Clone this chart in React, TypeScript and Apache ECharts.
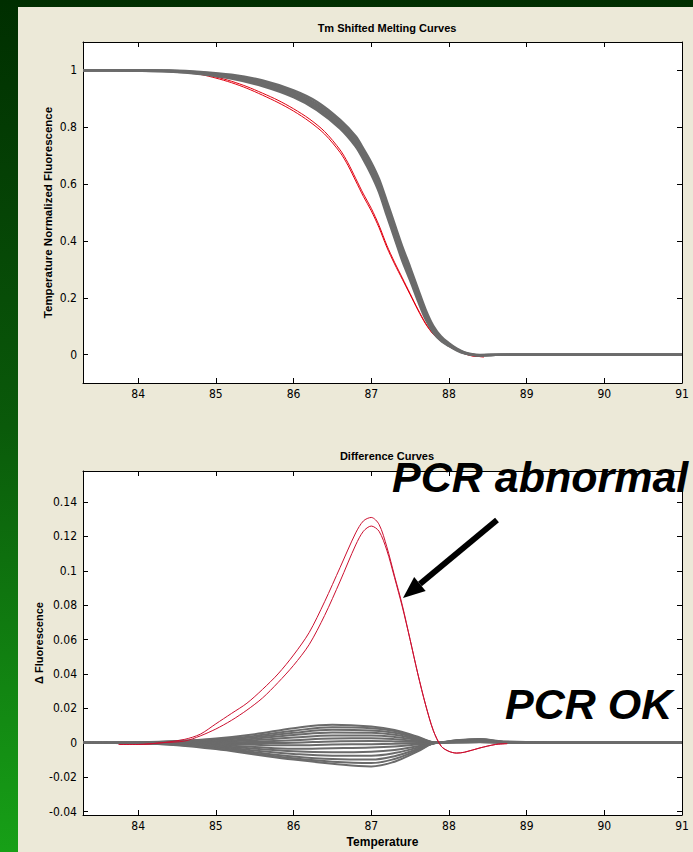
import React, { useEffect, useRef } from "react";
import * as echarts from "echarts";

// ---------- axis settings ----------
const xMin = 83.29;
const xMax = 91;
const xStep = 1;
const topYMin = -0.1;
const topYMax = 1.1;
const topYStep = 0.2;
const botYMin = -0.042;
const botYMax = 0.158;
const botYStep = 0.02;

// ---------- Tm shifted melting curves (top) ----------
const meltTemps = [83.29, 83.6, 84.0, 84.4, 84.8, 85.2, 85.6, 86.0, 86.3, 86.6, 86.8, 86.9, 87.0, 87.1, 87.2, 87.3, 87.4, 87.5, 87.6, 87.7, 87.8, 87.9, 88.0, 88.1, 88.2, 88.3, 88.4, 88.6, 88.8, 89.5, 90.2, 91.0];
const meltGrayUpper = [1.0, 1.0, 1.001, 1.0, 0.995, 0.985, 0.965, 0.93, 0.89, 0.826, 0.768, 0.724, 0.676, 0.618, 0.54, 0.46, 0.38, 0.308, 0.232, 0.158, 0.1, 0.063, 0.04, 0.021, 0.008, 0.001, -0.001, 0.0, 0.0, 0.0, 0.0, 0.0];
const meltGrayUpperMid = [1.0, 1.0, 1.0, 0.999, 0.993, 0.981, 0.96, 0.924, 0.882, 0.818, 0.759, 0.714, 0.665, 0.606, 0.527, 0.447, 0.367, 0.296, 0.221, 0.149, 0.094, 0.059, 0.037, 0.019, 0.007, 0.0, -0.002, -0.001, 0.0, 0.0, 0.0, 0.0];
const meltGrayMid = [1.0, 1.0, 1.0, 0.998, 0.991, 0.978, 0.955, 0.918, 0.875, 0.81, 0.75, 0.705, 0.655, 0.595, 0.515, 0.435, 0.355, 0.285, 0.21, 0.14, 0.088, 0.055, 0.035, 0.018, 0.006, 0.0, -0.002, -0.001, 0.0, 0.0, 0.0, 0.0];
const meltGrayLowerMid = [1.0, 1.0, 0.999, 0.997, 0.989, 0.974, 0.95, 0.912, 0.868, 0.802, 0.741, 0.695, 0.644, 0.583, 0.502, 0.422, 0.342, 0.273, 0.2, 0.132, 0.082, 0.051, 0.032, 0.016, 0.005, -0.001, -0.003, -0.001, 0.0, 0.0, 0.0, 0.0];
const meltGrayLower = [1.0, 1.0, 0.999, 0.996, 0.987, 0.971, 0.945, 0.906, 0.861, 0.795, 0.732, 0.686, 0.634, 0.572, 0.49, 0.41, 0.33, 0.262, 0.19, 0.124, 0.077, 0.048, 0.03, 0.015, 0.004, -0.001, -0.003, -0.001, 0.0, 0.0, 0.0, 0.0];
const meltGrayCurves = [meltGrayUpper, meltGrayUpperMid, meltGrayMid, meltGrayLowerMid, meltGrayLower];

const meltRedTemps = [84.6, 84.8, 85.0, 85.2, 85.4, 85.6, 85.8, 86.0, 86.2, 86.4, 86.6, 86.7, 86.8, 86.9, 87.0, 87.1, 87.2, 87.3, 87.4, 87.5, 87.6, 87.7, 87.8, 87.9, 88.0, 88.1, 88.2, 88.3, 88.4, 88.45];
const meltRedA = [0.995, 0.988, 0.977, 0.962, 0.943, 0.92, 0.895, 0.865, 0.83, 0.785, 0.72, 0.675, 0.62, 0.565, 0.515, 0.455, 0.385, 0.325, 0.27, 0.215, 0.16, 0.11, 0.072, 0.048, 0.03, 0.015, 0.004, -0.004, -0.007, -0.008];
const meltRedB = [0.994, 0.986, 0.973, 0.957, 0.937, 0.913, 0.887, 0.857, 0.821, 0.776, 0.711, 0.666, 0.611, 0.556, 0.506, 0.447, 0.378, 0.319, 0.265, 0.211, 0.157, 0.108, 0.071, 0.047, 0.029, 0.014, 0.003, -0.005, -0.007, -0.008];

// ---------- Difference curves (bottom) ----------
const diffTemps = [83.29, 84.0, 84.5, 85.0, 85.5, 86.0, 86.5, 87.0, 87.3, 87.6, 87.85, 88.1, 88.4, 88.7, 89.5, 90.3, 91.0];
const diffGray1 = [0, 0.0003, 0.001, 0.0025, 0.005, 0.0085, 0.0105, 0.0095, 0.0075, 0.0035, 0.0, 0.0015, 0.0022, 0.0008, 0.0002, 0.0, 0.0];
const diffGray2 = [0, 0.0002, 0.0008, 0.002, 0.004, 0.007, 0.009, 0.0085, 0.0068, 0.003, 0.0, 0.0012, 0.002, 0.0005, 0.0, 0.0002, 0.0];
const diffGray3 = [0, 0.0002, 0.0006, 0.0015, 0.0032, 0.0058, 0.0075, 0.0072, 0.0058, 0.0026, 0.0, 0.001, 0.0018, 0.0006, 0.0001, 0.0, 0.0];
const diffGray4 = [0, 0.0001, 0.0004, 0.001, 0.0024, 0.0045, 0.006, 0.0058, 0.0046, 0.0021, 0.0, 0.0014, 0.0016, 0.0003, 0.0, 0.0001, 0.0];
const diffGray5 = [0, 0.0001, 0.0002, 0.0006, 0.0015, 0.003, 0.0042, 0.0042, 0.0034, 0.0016, 0.0, 0.0008, 0.0015, 0.0005, 0.0, 0.0, 0.0];
const diffGray6 = [0, 0.0, 0.0001, 0.0002, 0.0006, 0.0015, 0.0025, 0.0026, 0.0021, 0.001, 0.0, 0.0011, 0.0013, 0.0004, 0.0001, 0.0, 0.0];
const diffGray7 = [0, 0.0, -0.0001, -0.0002, -0.0002, 0.0, 0.0008, 0.001, 0.0008, 0.0004, 0.0, 0.0009, 0.0012, 0.0003, 0.0, 0.0, 0.0];
const diffGray8 = [0, 0.0, -0.0002, -0.0006, -0.0012, -0.0015, -0.001, -0.0008, -0.0006, -0.0003, 0.0, 0.0007, 0.001, 0.0002, 0.0, 0.0001, 0.0];
const diffGray9 = [0, -0.0001, -0.0004, -0.0012, -0.0025, -0.0035, -0.0032, -0.0028, -0.0022, -0.001, 0.0, 0.0006, 0.0009, 0.0003, 0.0, 0.0, 0.0];
const diffGray10 = [0, -0.0001, -0.0006, -0.0017, -0.0035, -0.005, -0.0055, -0.0052, -0.0042, -0.002, 0.0, 0.0005, 0.0008, 0.0002, 0.0, 0.0, 0.0];
const diffGray11 = [0, -0.0002, -0.0008, -0.0022, -0.0045, -0.0065, -0.0075, -0.0075, -0.006, -0.0028, 0.0, 0.0004, 0.0006, 0.0002, 0.0, 0.0, 0.0];
const diffGray12 = [0, -0.0002, -0.001, -0.0027, -0.0055, -0.008, -0.0095, -0.0098, -0.0078, -0.0036, 0.0, 0.0003, 0.0005, 0.0001, 0.0, 0.0, 0.0];
const diffGray13 = [0, -0.0003, -0.0012, -0.0032, -0.0062, -0.009, -0.011, -0.0118, -0.0094, -0.0043, 0.0, 0.0002, 0.0004, 0.0001, 0.0, 0.0, 0.0];
const diffGray14 = [0, -0.0003, -0.0014, -0.0037, -0.0068, -0.0098, -0.0122, -0.0138, -0.011, -0.005, 0.0, 0.0001, 0.0003, 0.0, 0.0, 0.0, 0.0];
const diffGrayCurves = [diffGray1, diffGray2, diffGray3, diffGray4, diffGray5, diffGray6, diffGray7, diffGray8, diffGray9, diffGray10, diffGray11, diffGray12, diffGray13, diffGray14];

const diffRedTemps = [83.75, 84.0, 84.3, 84.6, 84.8, 85.0, 85.2, 85.4, 85.6, 85.8, 86.0, 86.2, 86.4, 86.6, 86.8, 86.9, 87.0, 87.1, 87.2, 87.3, 87.4, 87.5, 87.6, 87.7, 87.8, 87.9, 88.0, 88.1, 88.2, 88.4, 88.6, 88.75];
const diffRedUpper = [-0.001, -0.001, 0.0, 0.002, 0.005, 0.011, 0.017, 0.023, 0.031, 0.04, 0.051, 0.064, 0.082, 0.102, 0.122, 0.129, 0.131, 0.127, 0.114, 0.097, 0.08, 0.06, 0.04, 0.022, 0.007, -0.002, -0.005, -0.006, -0.0055, -0.003, -0.001, -0.0005];
const diffRedLower = [-0.001, -0.001, 0.0, 0.001, 0.004, 0.008, 0.013, 0.019, 0.026, 0.035, 0.045, 0.057, 0.074, 0.094, 0.115, 0.123, 0.126, 0.123, 0.112, 0.096, 0.079, 0.06, 0.04, 0.022, 0.007, -0.002, -0.005, -0.006, -0.0055, -0.003, -0.001, -0.0005];

// ---------- texts ----------
const topTitle = "Tm Shifted Melting Curves";
const bottomTitle = "Difference Curves";
const topYName = "Temperature Normalized Fluorescence";
const bottomYName = "\u0394 Fluorescence";
const xName = "Temperature";
const noteAbnormal = "PCR abnormal";
const noteOk = "PCR OK";

const GRAY = "#6b6b6b";
const RED = "#e00010";
const RED2 = "#cc1030";
const TICK_FONT = '"Liberation Sans Narrow", "DejaVu Sans Condensed", sans-serif';
const BOLD_FONT = '"Liberation Sans", Arial, sans-serif';

function pairs(xs: number[], ys: number[]) {
  return xs.map((x, i) => [x, ys[i]]);
}

export default function App() {
  const ref = useRef<HTMLDivElement>(null);

  useEffect(() => {
    if (!ref.current) return;
    const chart = echarts.init(ref.current, undefined, { renderer: "svg" });

    const grids = [
      { left: 83, top: 42, width: 599, height: 341 },
      { left: 83, top: 471, width: 599, height: 344 },
    ];

    const baseX = (gi: number, pos: "bottom" | "top", labels: boolean, name?: string) => ({
      type: "value",
      gridIndex: gi,
      position: pos,
      min: xMin,
      max: xMax,
      minInterval: xStep,
      maxInterval: xStep,
      name: name,
      nameLocation: "middle",
      nameGap: 21,
      nameMoveOverlap: false,
      nameTextStyle: { fontFamily: BOLD_FONT, fontWeight: "bold", fontSize: 12, color: "#000" },
      axisLine: { show: true, onZero: false, lineStyle: { color: "#000", width: 1 } },
      axisTick: { show: true, inside: true, length: 5, lineStyle: { color: "#000" } },
      axisLabel: {
        show: labels,
        showMinLabel: false,
        margin: 5,
        color: "#000",
        fontSize: 12,
        fontFamily: TICK_FONT,
      },
      splitLine: { show: false },
    });

    const baseY = (gi: number, pos: "left" | "right", labels: boolean, min: number, max: number, step: number, name?: string, gap?: number, nameSize?: number) => ({
      type: "value",
      gridIndex: gi,
      position: pos,
      min,
      max,
      minInterval: step,
      maxInterval: step,
      name,
      nameLocation: "middle",
      nameGap: gap ?? 30,
      nameMoveOverlap: false,
      nameTextStyle: { fontFamily: BOLD_FONT, fontWeight: "bold", fontSize: nameSize ?? 11, color: "#000" },
      axisLine: { show: true, onZero: false, lineStyle: { color: "#000", width: 1 } },
      axisTick: { show: true, inside: true, length: 5, lineStyle: { color: "#000" } },
      axisLabel: {
        show: labels,
        showMinLabel: false,
        showMaxLabel: false,
        margin: 6,
        color: "#000",
        fontSize: 12,
        fontFamily: TICK_FONT,
      },
      splitLine: { show: false },
    });

    const series: any[] = [];
    // top plot
    series.push({ type: "line", xAxisIndex: 0, yAxisIndex: 0, data: pairs(meltRedTemps, meltRedA), showSymbol: false, smooth: 0.3, lineStyle: { color: RED, width: 1 }, z: 2 });
    series.push({ type: "line", xAxisIndex: 0, yAxisIndex: 0, data: pairs(meltRedTemps, meltRedB), showSymbol: false, smooth: 0.3, lineStyle: { color: RED, width: 1 }, z: 2 });
    meltGrayCurves.forEach((arr) => {
      series.push({ type: "line", xAxisIndex: 0, yAxisIndex: 0, data: pairs(meltTemps, arr), showSymbol: false, smooth: 0.3, lineStyle: { color: GRAY, width: 2.4 }, z: 3 });
    });
    // bottom plot
    diffGrayCurves.forEach((arr) => {
      series.push({ type: "line", xAxisIndex: 2, yAxisIndex: 2, data: pairs(diffTemps, arr), showSymbol: false, smooth: 0.4, lineStyle: { color: GRAY, width: 2 }, z: 2 });
    });
    series.push({ type: "line", xAxisIndex: 2, yAxisIndex: 2, data: pairs(diffRedTemps, diffRedUpper), showSymbol: false, smooth: 0.3, lineStyle: { color: RED2, width: 1 }, z: 3 });
    series.push({ type: "line", xAxisIndex: 2, yAxisIndex: 2, data: pairs(diffRedTemps, diffRedLower), showSymbol: false, smooth: 0.3, lineStyle: { color: RED2, width: 1 }, z: 3 });

    // arrow geometry (annotation, in page pixels)
    const tail = [497, 520];
    const tip = [403, 598];
    const dx = tip[0] - tail[0];
    const dy = tip[1] - tail[1];
    const len = Math.sqrt(dx * dx + dy * dy);
    const ux = dx / len, uy = dy / len;
    const nx = -uy, ny = ux;
    const headLen = 22, headHalf = 9;
    const bx = tip[0] - ux * headLen, by = tip[1] - uy * headLen;

    chart.setOption({
      animation: false,
      backgroundColor: "transparent",
      title: [
        { text: topTitle, left: 382, top: 17, textAlign: "center", textStyle: { fontFamily: BOLD_FONT, fontWeight: "bold", fontSize: 11, color: "#000" } },
        { text: bottomTitle, left: 382, top: 445, textAlign: "center", textStyle: { fontFamily: BOLD_FONT, fontWeight: "bold", fontSize: 11, color: "#000" } },
      ],
      grid: grids.map((g) => ({ ...g, backgroundColor: "#fff", show: true, borderWidth: 0 })),
      xAxis: [
        baseX(0, "bottom", true),
        baseX(0, "top", false),
        baseX(1, "bottom", true, xName),
        baseX(1, "top", false),
      ],
      yAxis: [
        baseY(0, "left", true, topYMin, topYMax, topYStep, topYName, 29, 11.5),
        baseY(0, "right", false, topYMin, topYMax, topYStep),
        baseY(1, "left", true, botYMin, botYMax, botYStep, bottomYName, 39, 11),
        baseY(1, "right", false, botYMin, botYMax, botYStep),
      ],
      series,
      graphic: [
        {
          type: "line",
          shape: { x1: tail[0], y1: tail[1], x2: bx, y2: by },
          style: { stroke: "#000", lineWidth: 6 },
          z: 100,
        },
        {
          type: "polygon",
          shape: { points: [[tip[0], tip[1]], [bx + nx * headHalf, by + ny * headHalf], [bx - nx * headHalf, by - ny * headHalf]] },
          style: { fill: "#000" },
          z: 100,
        },
        {
          type: "text",
          left: 392,
          top: 455,
          style: { text: noteAbnormal, font: 'italic bold 43px "Liberation Sans", Arial, sans-serif', fill: "#000" },
          z: 100,
        },
        {
          type: "text",
          left: 505,
          top: 682,
          style: { text: noteOk, font: 'italic bold 43px "Liberation Sans", Arial, sans-serif', fill: "#000" },
          z: 100,
        },
      ],
    });

    return () => chart.dispose();
  }, []);

  return (
    <div
      style={{
        position: "absolute",
        left: 0,
        top: 0,
        width: 693,
        height: 852,
        background:
          "linear-gradient(#ece9d8, #ece9d8) 18px 7px / 675px 845px no-repeat, linear-gradient(to bottom, #002e00 0%, #0a5a0a 50%, #17a017 100%)",
      }}
    >
      <div ref={ref} style={{ width: 693, height: 852 }} />
    </div>
  );
}
